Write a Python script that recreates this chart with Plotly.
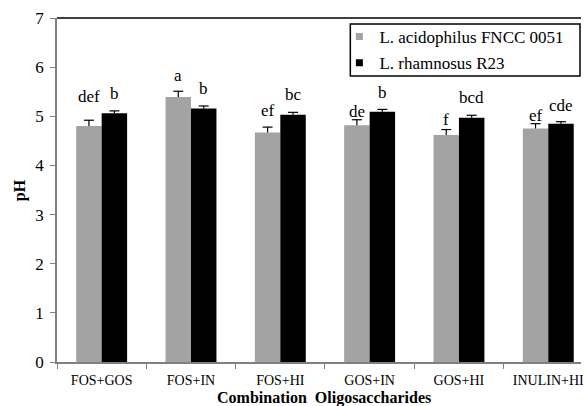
import plotly.graph_objects as go

categories = ["FOS+GOS", "FOS+IN", "FOS+HI", "GOS+IN", "GOS+HI", "INULIN+HI"]
acid_vals = [4.80, 5.39, 4.67, 4.82, 4.62, 4.75]
acid_err = [0.12, 0.12, 0.11, 0.11, 0.11, 0.10]
rham_vals = [5.06, 5.16, 5.03, 5.09, 4.97, 4.85]
rham_err = [0.05, 0.05, 0.05, 0.05, 0.05, 0.04]
acid_letters = ["def", "a", "ef", "de", "f", "ef"]
rham_letters = ["b", "b", "bc", "b", "bcd", "cde"]
series_names = ["L. acidophilus FNCC 0051", "L. rhamnosus R23"]
y_ticks = [0, 1, 2, 3, 4, 5, 6, 7]

GRAY = "#a3a3a3"
BLACK = "#000000"
SERIF = "Liberation Serif"

BARGAP = 0.43
HALF = (1 - BARGAP) / 4          # offset of each bar centre from category centre
CAP = 0.056                      # half width of the error-bar hat (axis units)
XRANGE = [-0.5, 5.5 - 12 / 89.8]

acid_shift = [12, 4, 5, -3, -1, -3]
rham_shift = [6, 6, 6, 5, 6, 5]

fig = go.Figure()
for name, vals, color in [
    (series_names[0], acid_vals, GRAY),
    (series_names[1], rham_vals, BLACK),
]:
    fig.add_trace(go.Bar(
        x=categories, y=vals, name=name, marker_color=color,
        marker_line_width=0, showlegend=False,
    ))

# one-sided (upper) error bars drawn as lines on an overlaid numeric axis
ex, ey = [], []
for vals, errs, off in [(acid_vals, acid_err, -HALF), (rham_vals, rham_err, HALF)]:
    for i, (v, e) in enumerate(zip(vals, errs)):
        xc = i + off
        ex += [xc, xc, None, xc - CAP, xc + CAP, None]
        ey += [v, v + e, None, v + e, v + e, None]
fig.add_trace(go.Scatter(
    x=ex, y=ey, mode="lines", xaxis="x2", showlegend=False,
    line=dict(color="#000", width=1.2), hoverinfo="skip",
))

# legend-only entries (small square markers like the original)
for i, (name, color) in enumerate(zip(series_names, [GRAY, BLACK])):
    fig.add_trace(go.Scatter(
        x=[None], y=[None], mode="markers", name=name,
        legendgroup=f"g{i}",
        marker=dict(symbol="square", size=7, color=color),
    ))

annotations = []
for letters, vals, errs, shifts, dx in [
    (acid_letters, acid_vals, acid_err, acid_shift, -12.7),
    (rham_letters, rham_vals, rham_err, rham_shift, 12.7),
]:
    for c, l, v, e, s in zip(categories, letters, vals, errs, shifts):
        annotations.append(dict(
            x=c, y=v + e, text=l, showarrow=False, xshift=dx, yshift=s,
            yanchor="bottom", xanchor="center",
            font=dict(family=SERIF, size=17, color="#000"),
        ))

annotations.append(dict(
    xref="paper", yref="paper", x=(326 - 57) / (584 - 57), y=-(398 - 362) / 344,
    text="<b>Combination  Oligosaccharides</b>", showarrow=False,
    xanchor="center", yanchor="middle",
    font=dict(family=SERIF, size=16, color="#000"),
))
annotations.append(dict(
    xref="paper", yref="paper", x=-(57 - 20) / 527, y=0.5,
    text="<b>pH</b>", showarrow=False, textangle=-90,
    xanchor="center", yanchor="middle",
    font=dict(family=SERIF, size=16, color="#000"),
))

fig.update_layout(
    width=584, height=406,
    margin=dict(l=57, r=0, t=18, b=44),
    paper_bgcolor="white", plot_bgcolor="white",
    barmode="group", bargap=BARGAP, bargroupgap=0,
    annotations=annotations,
    showlegend=True,
    legend=dict(
        x=(341 - 57) / 527, y=(362 - 19) / 344,
        xanchor="left", yanchor="top",
        bgcolor="rgba(0,0,0,0)", borderwidth=0,
        traceorder="grouped", tracegroupgap=1,
        font=dict(family=SERIF, size=17, color="#000"),
    ),
    shapes=[
        dict(type="line", xref="paper", yref="paper", x0=0, x1=1, y0=1, y1=1,
             line=dict(color="#000", width=1.5)),
        dict(type="rect", xref="paper", yref="paper",
             x0=(352 - 57) / 527, x1=(583 - 57) / 527,
             y0=(362 - 76) / 344, y1=(362 - 24) / 344,
             line=dict(color="#000", width=1.5)),
    ],
    xaxis=dict(
        range=XRANGE,
        showline=True, linecolor="#808080", linewidth=1.5,
        ticks="outside", tickson="boundaries", ticklen=5, tickcolor="#808080",
        ticklabelstandoff=4,
        tickfont=dict(family=SERIF, size=14, color="#000"),
        showgrid=False, zeroline=False,
    ),
    xaxis2=dict(
        range=XRANGE, overlaying="x", visible=False,
        showgrid=False, zeroline=False,
    ),
    yaxis=dict(
        range=[0, 7], tickvals=y_ticks,
        showline=True, linecolor="#808080", linewidth=1.5,
        ticks="outside", ticklen=5, tickcolor="#808080",
        ticklabelstandoff=3,
        tickfont=dict(family=SERIF, size=17, color="#000"),
        showgrid=False, zeroline=False,
    ),
)

fig.write_html("out.html", config={"displayModeBar": False},
               post_script="document.body.style.margin='0';")
